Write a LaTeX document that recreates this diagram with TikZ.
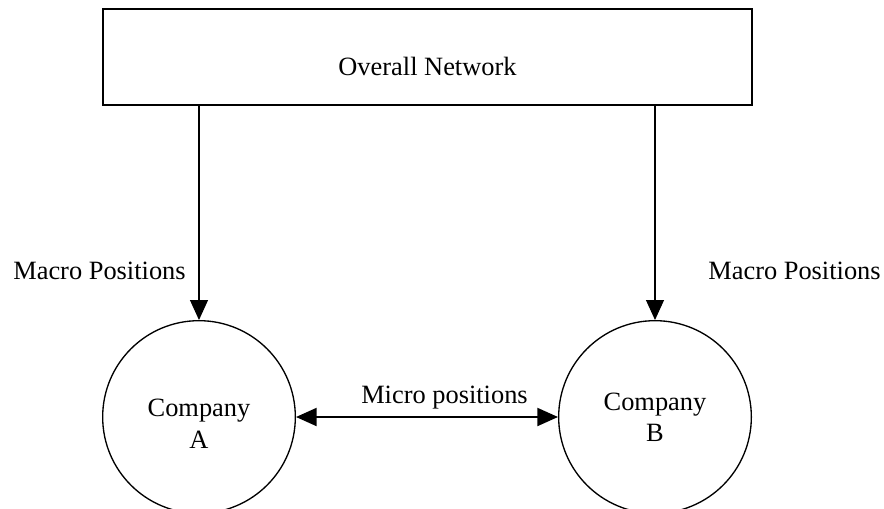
\documentclass[tikz,border=0pt]{standalone}
\usepackage{fontspec}
\setmainfont{Liberation Serif}
\usetikzlibrary{arrows.meta}
\begin{document}
\begin{tikzpicture}[x=0.75pt,y=-0.75pt,
  lbl/.style={font=\fontsize{19.8}{23.4}\selectfont, inner sep=0pt},
  box/.style={draw, line width=1.2pt, minimum width=486.75pt, minimum height=72pt,
    inner sep=0pt, text height=27pt, text depth=0pt, font=\fontsize{19.8}{23.4}\selectfont},
  comp/.style={draw, circle, line width=1pt, minimum size=144.5pt, inner sep=0pt},
  tri/.style={-{Triangle[length=15pt,width=13.5pt]}, line width=0.8pt},
  dtri/.style={{Triangle[length=15.5pt,width=13.5pt]}-{Triangle[length=15.5pt,width=13.5pt]}, line width=1.5pt}]
\useasboundingbox (0,0) rectangle (884,508);
\node[box] (net) at (427.5,57) {Overall Network};
\node[comp] (ca) at (199,417) {};
\node[comp] (cb) at (655,417) {};
\node[lbl, align=center] (ta) at (199,423.7) {Company\\A};
\node[lbl, align=center] (tb) at (655,417) {Company\\B};
\draw[tri] (ca.north |- net.south) -- (ca.north);
\draw[tri] (cb.north |- net.south) -- (cb.north);
\draw[dtri] (ca.east) -- (cb.west);
\node[lbl, anchor=base] (ml) at (99.5,279) {Macro Positions};
\node[lbl, anchor=base] (mr) at (794.5,279) {Macro Positions};
\node[lbl, anchor=base] (mp) at (444.5,403) {Micro positions};
\end{tikzpicture}
\end{document}
